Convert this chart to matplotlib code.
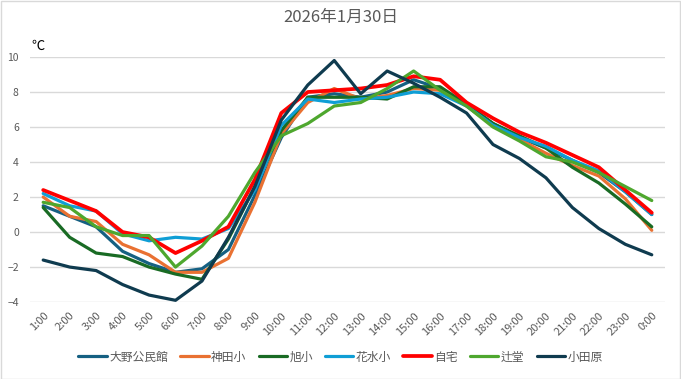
import matplotlib
matplotlib.use('Agg')
import matplotlib.pyplot as plt
from matplotlib.patches import Rectangle

plt.rcParams['font.family'] = ['Noto Sans CJK JP', 'DejaVu Sans']

hours = ['1:00', '2:00', '3:00', '4:00', '5:00', '6:00', '7:00', '8:00', '9:00', '10:00',
         '11:00', '12:00', '13:00', '14:00', '15:00', '16:00', '17:00', '18:00', '19:00',
         '20:00', '21:00', '22:00', '23:00', '0:00']

oono = [1.5, 0.9, 0.3, -1.1, -1.8, -2.3, -2.1, -1.0, 2.1, 5.4, 7.7, 7.9,
        7.7, 8.0, 8.7, 8.2, 7.3, 6.2, 5.4, 4.8, 4.1, 3.4, 2.3, 1.0]
kanda = [2.0, 0.9, 0.6, -0.7, -1.3, -2.3, -2.3, -1.5, 1.7, 5.6, 7.4, 8.2,
         7.6, 7.8, 8.2, 8.1, 7.2, 6.1, 5.3, 4.5, 3.8, 3.2, 1.9, 0.1]
asahi = [1.4, -0.3, -1.2, -1.4, -2.0, -2.4, -2.7, -0.4, 2.6, 5.8, 7.7, 7.7,
         7.7, 7.6, 8.3, 8.3, 7.3, 6.2, 5.5, 4.8, 3.7, 2.8, 1.6, 0.3]
hanamizu = [2.2, 1.5, 1.2, -0.1, -0.5, -0.3, -0.4, 0.2, 2.4, 6.1, 7.6, 7.4,
            7.6, 7.7, 8.0, 7.9, 7.2, 6.1, 5.4, 4.9, 4.1, 3.5, 2.3, 1.0]
jitaku = [2.4, 1.8, 1.2, 0.0, -0.3, -1.2, -0.5, 0.3, 3.0, 6.8, 8.0, 8.1,
          8.2, 8.4, 8.9, 8.7, 7.4, 6.5, 5.7, 5.1, 4.4, 3.7, 2.4, 1.1]
tsujido = [1.7, 1.4, 0.3, -0.2, -0.2, -2.0, -0.8, 0.9, 3.4, 5.5, 6.2, 7.2,
           7.4, 8.2, 9.2, 8.1, 7.2, 6.0, 5.2, 4.3, 4.0, 3.4, 2.6, 1.8]
odawara = [-1.6, -2.0, -2.2, -3.0, -3.6, -3.9, -2.8, -0.3, 2.6, 6.4, 8.4, 9.8,
           7.9, 9.2, 8.5, 7.7, 6.8, 5.0, 4.2, 3.1, 1.4, 0.2, -0.7, -1.3]

series = [
    ('大野公民館', oono, '#156082', 2.3),
    ('神田小', kanda, '#E97132', 2.3),
    ('旭小', asahi, '#196B24', 2.3),
    ('花水小', hanamizu, '#0F9ED5', 2.3),
    ('自宅', jitaku, '#FF0000', 2.7),
    ('辻堂', tsujido, '#4EA72E', 2.3),
    ('小田原', odawara, '#0F3B4F', 2.3),
]

GRAY = '#595959'

fig = plt.figure(figsize=(6.81, 3.79), dpi=100)
ax = fig.add_axes([0.044, 0.203, 0.9325, 0.6466])

x = list(range(len(hours)))
for name, vals, color, lw in series:
    ax.plot(x, vals, color=color, linewidth=lw, label=name, solid_capstyle='round')

ax.set_xlim(-0.5, len(hours) - 0.5)
ax.set_ylim(-4, 10)
ax.set_yticks(range(-4, 11, 2))
ax.set_xticks(x)
ax.set_xticklabels(hours, rotation=45, ha='right', va='top', rotation_mode='anchor',
                   fontsize=8, color=GRAY)
ax.tick_params(axis='y', labelsize=7.5, labelcolor=GRAY, length=0, pad=8)
ax.tick_params(axis='x', length=0, pad=6)
for s in ax.spines.values():
    s.set_visible(False)
ax.grid(axis='y', color='#D9D9D9', linewidth=1)
ax.set_axisbelow(True)

ax.text(-0.45, 10.25, '℃', fontsize=9.5, color='black', va='bottom', ha='left')
fig.text(0.5, 0.955, '2026年1月30日', ha='center', va='center', fontsize=12, color=GRAY)

fig.legend(loc='center', bbox_to_anchor=(0.5, 0.058), ncol=7, frameon=False,
           fontsize=8.5, handlelength=2.4, handletextpad=0.2, columnspacing=1.05,
           labelcolor=GRAY)

fig.patches.append(Rectangle((0.001, 0.001), 0.997, 0.996, transform=fig.transFigure,
                             fill=False, edgecolor='#D9D9D9', linewidth=1))

fig.savefig('out.png', dpi=100)
